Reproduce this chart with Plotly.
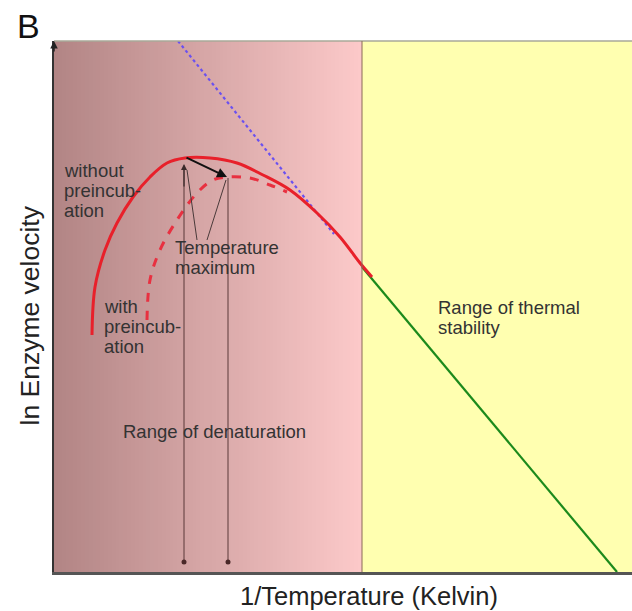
import numpy as np
import plotly.graph_objects as go

# ---- data (arbitrary units: x ~ 1/T, y ~ ln v) ----
X_MAX, Y_MAX = 578, 531
boundary_x = 308  # start of thermal stability range

red_solid_x = [38, 41, 51, 63, 79, 96, 113, 131, 156, 183, 209, 236, 263, 286, 306, 318]
red_solid_y = [237, 285, 322, 349, 375, 395, 409, 414, 414, 409, 397, 382, 359, 335, 309, 295]

red_dash_x = [93, 96, 106, 123, 143, 159, 173, 196, 216, 233]
red_dash_y = [252, 292, 322, 352, 379, 392, 395, 394, 387, 380]

blue_x = [124, 280]
blue_y = [531, 338]

green_x = [308, 563]
green_y = [305, 0]

tmax_no_pre = (131, 415)
tmax_pre = (173, 395)
vline_left_x = 130
vline_right_x = 174
vline_bottom_y = 10
vline_left_top = 404
vline_right_top = 394

pointer_x = [[133, 143], [153, 172]]
pointer_y = [[402, 332], [332, 392]]

TEXT = "#333333"
FONT = "Liberation Sans, Arial, sans-serif"

fig = go.Figure()

# background gradient over the denaturation range
ncol = 80
edges = np.linspace(0, boundary_x, ncol + 1)
fig.add_trace(go.Heatmap(
    x=edges, y=[0, Y_MAX], z=[list(range(ncol))],
    colorscale=[[0, "rgb(178,133,133)"], [1, "rgb(252,201,201)"]],
    showscale=False, hoverinfo="skip"))

fig.add_trace(go.Scatter(x=blue_x, y=blue_y, mode="lines",
                         line=dict(color="#6a50f0", width=2.2, dash="dot"), hoverinfo="skip"))
fig.add_trace(go.Scatter(x=green_x, y=green_y, mode="lines",
                         line=dict(color="#1c8a1c", width=2.2), hoverinfo="skip"))
fig.add_trace(go.Scatter(x=red_dash_x, y=red_dash_y, mode="lines", line_shape="spline",
                         line=dict(color="#e83040", width=3, dash="dash"), hoverinfo="skip"))
fig.add_trace(go.Scatter(x=red_solid_x, y=red_solid_y, mode="lines", line_shape="spline",
                         line=dict(color="#e8202a", width=3), hoverinfo="skip"))

# vertical thin lines
for vx, top in [(vline_left_x, vline_left_top), (vline_right_x, vline_right_top)]:
    fig.add_trace(go.Scatter(x=[vx, vx], y=[vline_bottom_y, top], mode="lines",
                             line=dict(color="#5a3838", width=1), hoverinfo="skip"))
fig.add_trace(go.Scatter(x=[vline_left_x, vline_right_x], y=[vline_bottom_y, vline_bottom_y],
                         mode="markers", marker=dict(color="#4a2828", size=5), hoverinfo="skip"))
for px_, py_ in zip(pointer_x, pointer_y):
    fig.add_trace(go.Scatter(x=px_, y=py_, mode="lines",
                             line=dict(color="#4a3a3a", width=1), hoverinfo="skip"))

annotations = []
# arrow between the two temperature maxima
annotations.append(dict(x=tmax_pre[0], y=tmax_pre[1], ax=tmax_no_pre[0], ay=tmax_no_pre[1],
                        xref="x", yref="y", axref="x", ayref="y", text="", showarrow=True,
                        arrowhead=2, arrowsize=1, arrowwidth=2, arrowcolor="#111"))
# up arrow on left vertical line
annotations.append(dict(x=vline_left_x, y=vline_left_top + 4, ax=vline_left_x, ay=vline_left_top - 20,
                        xref="x", yref="y", axref="x", ayref="y", text="", showarrow=True,
                        arrowhead=2, arrowsize=1, arrowwidth=1.2, arrowcolor="#3a2a2a"))
# y axis arrow
annotations.append(dict(x=0, y=1, xref="paper", yref="paper", ax=0, ay=12, text="",
                        showarrow=True, arrowhead=2, arrowsize=1, arrowwidth=1.5, arrowcolor="#222"))


def px2x(p):
    return (p - 54) / X_MAX


def py2y(p):
    return (572 - p) / Y_MAX


labels = [
    ("without", 62, 177), ("preincub-", 62, 197), ("ation", 62, 217),
    ("Temperature", 173, 254), ("maximum", 173, 274),
    ("with", 102, 313), ("preincub-", 102, 333), ("ation", 102, 353),
    ("Range of denaturation", 121, 438),
    ("Range of thermal", 436, 314), ("stability", 436, 334),
]
FS = 18.5
for t, lx, by in labels:
    annotations.append(dict(text=t, x=px2x(lx), y=py2y(by - 0.33 * FS), xref="paper", yref="paper",
                            xanchor="left", yanchor="middle", showarrow=False,
                            font=dict(family=FONT, size=FS, color=TEXT)))

annotations.append(dict(text="1/Temperature (Kelvin)", x=px2x(369), y=py2y(604 - 0.33 * 25.5),
                        xref="paper", yref="paper", xanchor="center", yanchor="middle",
                        showarrow=False, font=dict(family=FONT, size=25.5, color="#222")))
annotations.append(dict(text="ln Enzyme velocity", x=px2x(29), y=py2y(315.5),
                        xref="paper", yref="paper", xanchor="center", yanchor="middle", textangle=-90,
                        showarrow=False, font=dict(family=FONT, size=26.5, color="#222")))
annotations.append(dict(text="B", x=px2x(15), y=py2y(37 - 0.33 * 34),
                        xref="paper", yref="paper", xanchor="left", yanchor="middle",
                        showarrow=False, font=dict(family=FONT, size=34, color="#111")))

fig.update_layout(
    width=632, height=611,
    margin=dict(l=54, r=0, t=41, b=39),
    paper_bgcolor="white", plot_bgcolor="#ffffb0",
    showlegend=False,
    xaxis=dict(range=[0, X_MAX], showgrid=False, zeroline=False, showticklabels=False, ticks="",
               showline=True, linecolor="#555", linewidth=2.5),
    yaxis=dict(range=[0, Y_MAX], showgrid=False, zeroline=False, showticklabels=False, ticks="",
               showline=True, linecolor="#333", linewidth=1.5),
    annotations=annotations,
    shapes=[
        dict(type="line", xref="paper", yref="paper", x0=0, x1=1, y0=1, y1=1,
             line=dict(color="#a8a898", width=1.5)),
        dict(type="line", xref="x", yref="paper", x0=boundary_x, x1=boundary_x, y0=0, y1=1,
             line=dict(color="#8b6a58", width=1)),
    ],
)

fig.write_html("out.html")
